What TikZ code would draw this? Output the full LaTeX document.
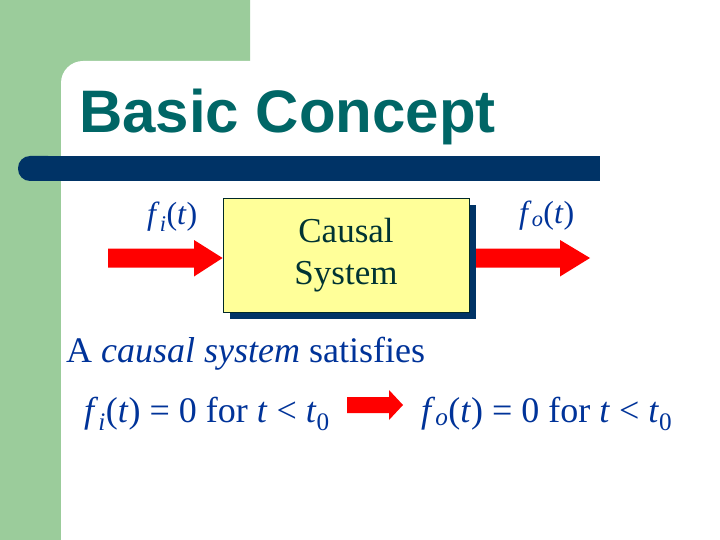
\documentclass[tikz,border=0pt]{standalone}
\usepackage{fontspec}
\setmainfont{Liberation Serif}
\newfontfamily\titlefont{Liberation Sans}
\usetikzlibrary{shadows}
\definecolor{bggreen}{RGB}{155,204,155}
\definecolor{barblue}{RGB}{0,51,102}
\definecolor{titleteal}{RGB}{0,102,102}
\definecolor{textblue}{RGB}{0,51,153}
\definecolor{boxyellow}{RGB}{255,255,153}
\definecolor{boxtext}{RGB}{0,51,51}
\definecolor{arrred}{RGB}{255,0,0}
\begin{document}
\begin{tikzpicture}[x=1pt,y=-1pt,
  sysbox/.style={draw=boxtext!80!black, line width=0.8pt, fill=boxyellow,
    minimum width=246pt, minimum height=114pt, align=center, text=boxtext,
    font=\fontsize{35}{42}\selectfont,
    drop shadow={shadow xshift=7pt, shadow yshift=-7pt, fill=barblue, opacity=1}},
  sig/.style={text=textblue, font=\fontsize{32}{38}\selectfont, inner sep=0pt, anchor=base west},
  body/.style={text=textblue, font=\fontsize{36}{42}\selectfont, inner sep=0pt, anchor=base west},
  blockarrow/.style={fill=arrred}]
\useasboundingbox (0,0) rectangle (720,540);
\fill[white] (0,0) rectangle (720,540);
% background
\fill[bggreen] (0,0) -- (250,0) -- (250,100) -- (100,100) -- (100,540) -- (0,540) -- cycle;
\fill[white, rounded corners=22pt] (61,640) -- (61,61) -- (820,61) -- (820,640) -- cycle;
% bar
\fill[barblue] (40,156) rectangle (600,181);
\fill[barblue, rounded corners=12pt] (18,156) rectangle (60,181);
% title
\node[anchor=base west, inner sep=0pt, text=titleteal,
  font=\titlefont\bfseries\fontsize{60}{60}\selectfont] (title) at (79,133) {Basic Concept};
% system box
\node[sysbox] (sys) at (346,255) {\raisebox{-5pt}{\parbox{200pt}{\centering Causal\\System}}};
% block arrows
\coordinate (inS) at (108,258);
\fill[blockarrow] (108,248.5) -- (194,248.5) -- (194,240) -- (sys.west |- inS) -- (194,276.5) -- (194,267.5) -- (inS |- 0,267.5) -- cycle;
\coordinate (outE) at (590,258);
\fill[blockarrow] (476,248.5) -- (560,248.5) -- (560,240) -- (outE) -- (560,276.5) -- (560,267.5) -- (476,267.5) -- cycle;
% labels
\node[sig] (fi) at (147,225) {\textit{f}\textsubscript{\textit{i}}(\textit{t})};
\node[sig] (fo) at (519,223) {\textit{f}\textsubscript{\textit{o}}(\textit{t})};
% statement
\node[body] (stmt) at (66,362) {A \textit{causal system} satisfies};
\node[body] (lhs) at (84,422) {\textit{f}\textsubscript{\textit{i}}(\textit{t}) = 0 for \textit{t} < \textit{t}\textsubscript{0}};
\node[body] (rhs) at (421,422) {\textit{f}\textsubscript{\textit{o}}(\textit{t}) = 0 for \textit{t} < \textit{t}\textsubscript{0}};
\coordinate (impB) at (403,405);
\fill[blockarrow] (347,397) -- (389,397) -- (389,390) -- (impB) -- (389,420) -- (389,413) -- (347,413) -- cycle;
\end{tikzpicture}
\end{document}
